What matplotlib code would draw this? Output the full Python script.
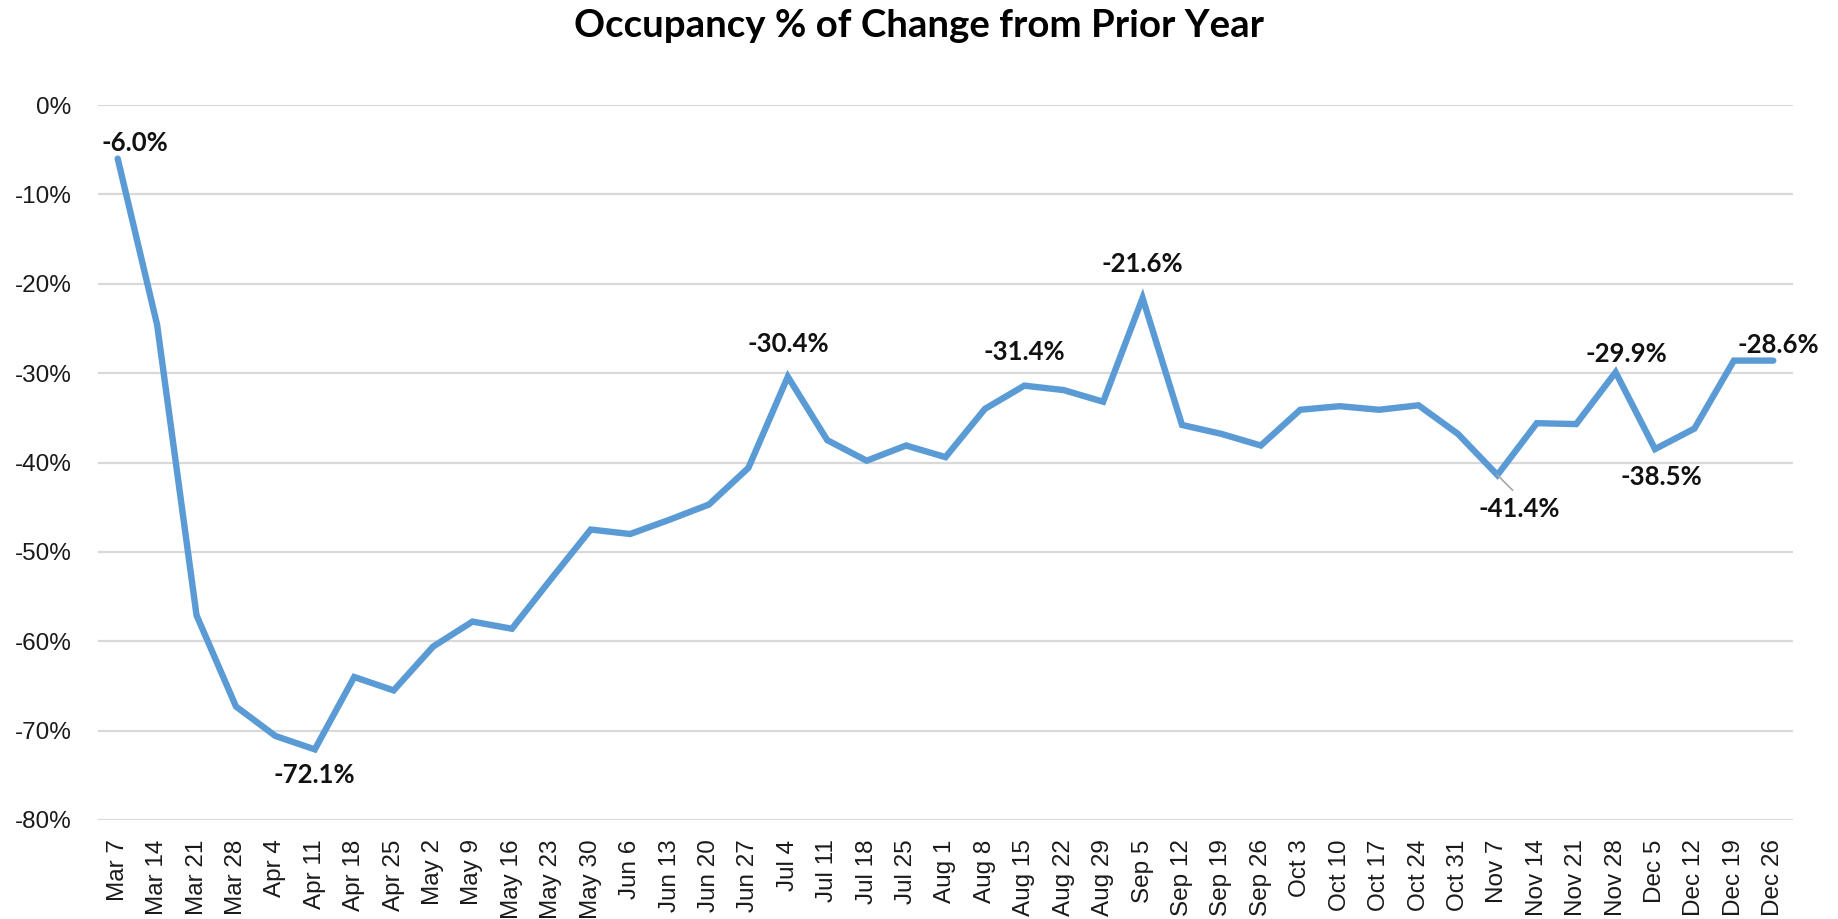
import numpy as np
import matplotlib.pyplot as plt

# weekly occupancy change vs prior year (%)
weeks = ['Mar 7', 'Mar 14', 'Mar 21', 'Mar 28', 'Apr 4', 'Apr 11', 'Apr 18', 'Apr 25',
         'May 2', 'May 9', 'May 16', 'May 23', 'May 30', 'Jun 6', 'Jun 13', 'Jun 20',
         'Jun 27', 'Jul 4', 'Jul 11', 'Jul 18', 'Jul 25', 'Aug 1', 'Aug 8', 'Aug 15',
         'Aug 22', 'Aug 29', 'Sep 5', 'Sep 12', 'Sep 19', 'Sep 26', 'Oct 3', 'Oct 10',
         'Oct 17', 'Oct 24', 'Oct 31', 'Nov 7', 'Nov 14', 'Nov 21', 'Nov 28', 'Dec 5',
         'Dec 12', 'Dec 19', 'Dec 26']
occupancy = [-6.0, -24.6, -57.1, -67.3, -70.6, -72.1, -64.0, -65.5,
             -60.6, -57.8, -58.6, -53.0, -47.5, -48.0, -46.4, -44.7,
             -40.6, -30.4, -37.5, -39.8, -38.1, -39.4, -34.0, -31.4,
             -31.9, -33.2, -21.6, -35.8, -36.8, -38.1, -34.1, -33.7,
             -34.1, -33.6, -36.8, -41.4, -35.6, -35.7, -29.9, -38.5,
             -36.2, -28.6, -28.6]
yticks = [0, -10, -20, -30, -40, -50, -60, -70, -80]
labeled = ['Mar 7', 'Apr 11', 'Jul 4', 'Aug 15', 'Sep 5', 'Nov 7', 'Nov 28', 'Dec 5', 'Dec 26']

# label offsets in pixels (dx, dy) relative to the point
offsets = {'Mar 7': (17, 16), 'Apr 11': (0, -26), 'Jul 4': (0, 33), 'Aug 15': (0, 34),
           'Sep 5': (0, 34), 'Nov 7': (22, -34), 'Nov 28': (11, 18), 'Dec 5': (6, -28),
           'Dec 26': (5, 16)}

plt.rcParams['font.family'] = ['Lato', 'DejaVu Sans']

fig = plt.figure(figsize=(18.38, 9.19), dpi=100)
ax = fig.add_axes([98 / 1838, 1 - 820 / 919, (1793 - 98) / 1838, (820 - 105) / 919])

x = np.arange(len(weeks))
ax.plot(x, occupancy, color='#5B9BD5', lw=4.6, solid_joinstyle='miter',
        solid_capstyle='round', zorder=3)

for name in labeled:
    i = weeks.index(name)
    dx, dy = offsets[name]
    arrow = None
    if name == 'Nov 7':
        arrow = dict(arrowstyle='-', color='#A6A6A6', lw=1.2, relpos=(0.5, 1.0),
                     shrinkA=4, shrinkB=0)
    ax.annotate('%.1f%%' % occupancy[i], (i, occupancy[i]), xytext=(dx, dy),
                textcoords='offset pixels', ha='center', va='center',
                fontsize=18.5, fontweight='bold', color='#111111', arrowprops=arrow)

ax.set_xlim(-0.5, len(weeks) - 0.5)
ax.set_ylim(-80, 0)
ax.set_yticks(yticks)
ax.set_yticklabels(['%d%%' % v for v in yticks], fontsize=17.5, color='#1a1a1a',
                   family='Liberation Sans')
ax.set_xticks(x)
ax.set_xticklabels(weeks, rotation=90, fontsize=17.5, color='#1a1a1a',
                   family='Liberation Sans')
ax.tick_params(axis='both', length=0)
ax.tick_params(axis='y', pad=19)
ax.tick_params(axis='x', pad=14)
ax.grid(axis='y', color='#D9D9D9', lw=1.6)
ax.set_axisbelow(True)
for s in ax.spines.values():
    s.set_visible(False)

fig.text(0.5, 1 - 26 / 919, 'Occupancy % of Change from Prior Year', ha='center', va='center',
         fontsize=27.6, fontweight='bold', color='#000000')

fig.savefig('out.png', dpi=100)
